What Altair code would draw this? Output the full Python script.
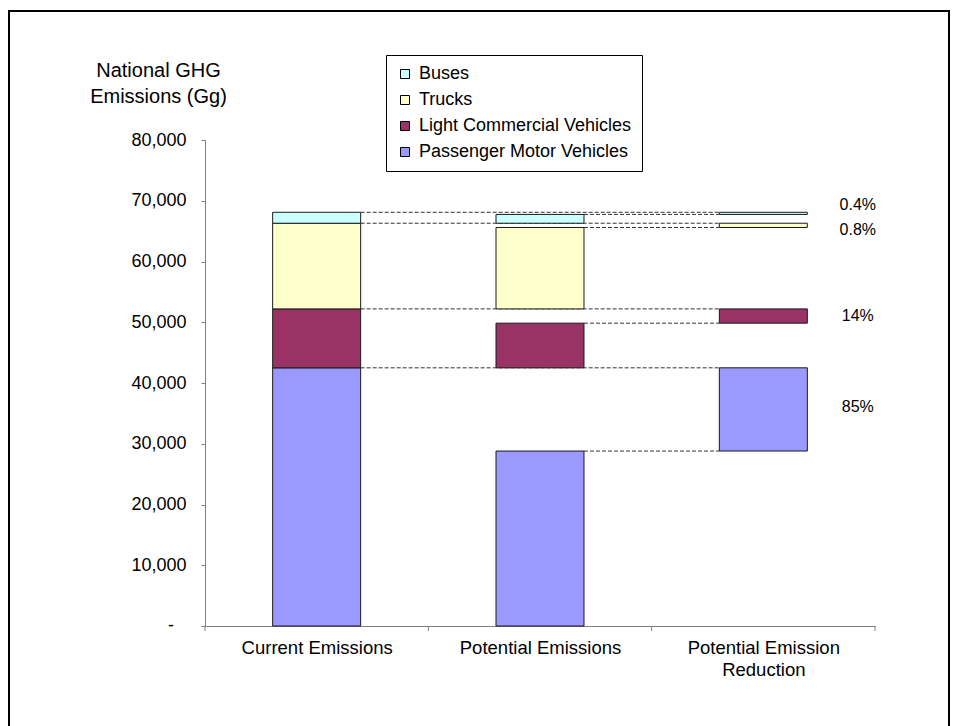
import altair as alt
import pandas as pd

# ---------------- data ----------------
categories = ["Current Emissions", "Potential Emissions", "Potential Emission Reduction"]
category_lines = [["Current Emissions"], ["Potential Emissions"], ["Potential Emission", "Reduction"]]
vehicle_types = ["Passenger Motor Vehicles", "Light Commercial Vehicles", "Trucks", "Buses"]
current_gg = [42500, 9700, 14100, 1800]
potential_gg = [28800, 7350, 13400, 1450]
reduction_pct = ["85%", "14%", "0.8%", "0.4%"]
colors = ["#9999FF", "#993366", "#FFFFCC", "#CCFFFF"]
y_ticks = [0, 10000, 20000, 30000, 40000, 50000, 60000, 70000, 80000]

# ---------------- layout constants ----------------
FONT = "Liberation Sans"
W, H = 670, 486
Y_MAX = 80000
BAR_HALF = 0.197          # half bar width in category units
LABEL_SHIFT = 0.423       # % labels to the right of reduction bar
label_dy_px = [-2, 0, 5, -8]   # small vertical nudges of the % labels (pixels)

pos = {c: i + 0.5 for i, c in enumerate(categories)}
c0, c1, c2 = categories

rows, conn, labels = [], [], []
base = 0
for v, cur, pot, pct, dy in zip(vehicle_types, current_gg, potential_gg, reduction_pct, label_dy_px):
    rows.append(dict(category=c0, vehicle=v, y0=base, y1=base + cur))
    rows.append(dict(category=c1, vehicle=v, y0=base, y1=base + pot))
    rows.append(dict(category=c2, vehicle=v, y0=base + pot, y1=base + cur))
    conn.append(dict(x0=pos[c0] + BAR_HALF, x1=pos[c2] - BAR_HALF, y=base + cur))
    conn.append(dict(x0=pos[c1] + BAR_HALF, x1=pos[c2] - BAR_HALF, y=base + pot))
    labels.append(dict(x=pos[c2] + LABEL_SHIFT,
                       y=base + (pot + cur) / 2 - dy * Y_MAX / H, text=pct))
    base += cur

bars = pd.DataFrame(rows)
bars["x0"] = bars["category"].map(pos) - BAR_HALF
bars["x1"] = bars["category"].map(pos) + BAR_HALF
conn_df = pd.DataFrame(conn)
label_df = pd.DataFrame(labels)
bounds_df = pd.DataFrame({"b": list(range(len(categories) + 1))})
zero_df = pd.DataFrame({"v": [0], "t": ["-"]})

# x label expression built from the category names
parts = []
for c, lines in zip(categories, category_lines):
    arr = "[" + ",".join("'" + s + "'" for s in lines) + "]"
    parts.append(f"datum.value == {pos[c]} ? {arr} : ")
label_expr_x = "".join(parts) + "''"

x_scale = alt.Scale(domain=[0, len(categories)], nice=False, zero=False)
y_scale = alt.Scale(domain=[0, Y_MAX], nice=False, zero=True)

x_axis = alt.Axis(
    values=[pos[c] for c in categories], labelExpr=label_expr_x, ticks=False, tickSize=0,
    grid=False, domainColor="#808080", domainWidth=1, labelFontSize=18.5, labelFont=FONT,
    labelColor="black", labelPadding=12, labelLineHeight=22, labelAngle=0,
    labelAlign="center", labelBaseline="top", labelFlush=False, labelOverlap=False, title=None,
)
y_axis = alt.Axis(
    values=y_ticks,
    labelExpr="datum.value == 0 ? '' : format(datum.value, ',')",
    tickSize=4, tickColor="#808080", domainColor="#808080", grid=False,
    labelFontSize=18, labelFont=FONT, labelColor="black", labelPadding=15,
    title=["National GHG", "Emissions (Gg)"], titleAngle=0, titleX=-47, titleY=-64,
    titleAlign="center", titleBaseline="alphabetic", titleFontSize=20, titleFont=FONT,
    titleFontWeight="normal", titleColor="black", titleLineHeight=26,
)

connectors = alt.Chart(conn_df).mark_rule(
    color="#333333", strokeWidth=1, strokeDash=[4, 2]
).encode(
    x=alt.X("x0:Q", scale=x_scale, axis=x_axis),
    x2="x1:Q",
    y=alt.Y("y:Q", scale=y_scale, axis=y_axis),
)

bar_layer = alt.Chart(bars).mark_rect(stroke="#1a1a1a", strokeWidth=1).encode(
    x=alt.X("x0:Q", scale=x_scale, axis=x_axis),
    x2="x1:Q",
    y=alt.Y("y0:Q", scale=y_scale, axis=y_axis),
    y2="y1:Q",
    color=alt.Color(
        "vehicle:N",
        scale=alt.Scale(domain=vehicle_types[::-1], range=colors[::-1]),
        legend=alt.Legend(
            title=None, orient="none", legendX=181, legendY=-85, direction="vertical",
            symbolType="square", symbolSize=81, symbolStrokeColor="black",
            symbolStrokeWidth=1, symbolOpacity=1, labelFontSize=18, labelFont=FONT,
            labelColor="black", rowPadding=8, padding=10, labelOffset=5,
            strokeColor="black", fillColor="white", labelLimit=400,
        ),
    ),
)

ticks = alt.Chart(bounds_df).mark_rule(color="#808080", strokeWidth=1).encode(
    x=alt.X("b:Q", scale=x_scale, axis=x_axis),
    y=alt.value(H),
    y2=alt.value(H + 5),
)

pct_text = alt.Chart(label_df).mark_text(
    fontSize=16, font=FONT, color="black", align="center", baseline="middle"
).encode(
    x=alt.X("x:Q", scale=x_scale, axis=x_axis),
    y=alt.Y("y:Q", scale=y_scale, axis=y_axis),
    text="text:N",
)

# accounting-style "-" label for zero on the y axis
zero_label = alt.Chart(zero_df).mark_text(
    fontSize=18, font=FONT, color="black", align="center", baseline="middle"
).encode(
    x=alt.value(-34),
    y=alt.Y("v:Q", scale=y_scale, axis=y_axis),
    text="t:N",
)

frame = alt.Chart(pd.DataFrame({"k": [0]})).mark_rect(
    fillOpacity=0, stroke="black", strokeWidth=2
).encode(
    x=alt.value(9 - 205), x2=alt.value(949 - 205),
    y=alt.value(11 - 140), y2=alt.value(H + 120),
)

chart = (
    alt.layer(frame, connectors, bar_layer, ticks, pct_text, zero_label)
    .properties(
        width=W, height=H,
        autosize=alt.AutoSizeParams(type="none"),
        padding={"left": 205, "top": 140, "right": 958 - 205 - W, "bottom": 726 - 140 - H},
    )
    .configure(font=FONT, background="white")
    .configure_view(strokeWidth=0, stroke="transparent")
)

chart.save("out.html", embed_options={"renderer": "svg", "actions": False})
